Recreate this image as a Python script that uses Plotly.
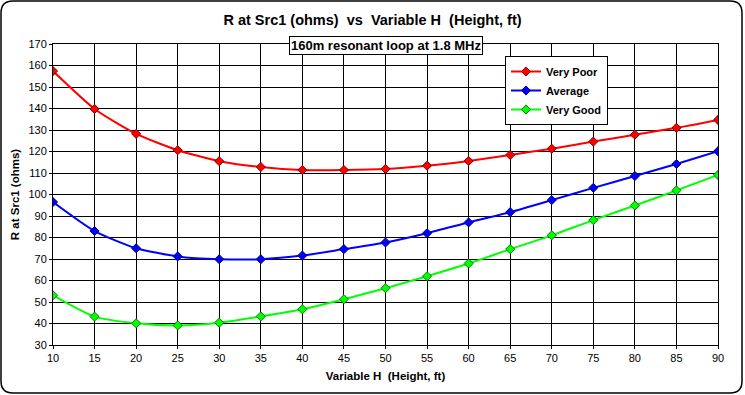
import plotly.graph_objects as go

heights = [10, 15, 20, 25, 30, 35, 40, 45, 50, 55, 60, 65, 70, 75, 80, 85, 90]
very_poor = [157.4, 139.8, 128.2, 120.6, 115.5, 112.8, 111.4, 111.4, 111.9, 113.4, 115.6, 118.4, 121.3, 124.6, 127.8, 131.0, 134.7]
average = [96.5, 83.0, 75.0, 71.2, 69.9, 69.9, 71.6, 74.6, 77.7, 82.0, 87.0, 91.8, 97.4, 103.1, 108.6, 114.2, 120.1]
very_good = [53.1, 43.2, 40.1, 39.1, 40.4, 43.3, 46.6, 51.3, 56.4, 62.0, 67.9, 74.6, 81.0, 88.1, 94.9, 101.9, 109.1]
series_names = ["Very Poor", "Average", "Very Good"]
x_ticks = list(range(10, 91, 5))
y_ticks = list(range(30, 171, 10))

W, H = 745, 395
L, R, T, B = 53, 27, 44, 50
pw, ph = W - L - R, H - T - B

FONT = "Liberation Sans, Arial, sans-serif"

fig = go.Figure()
styles = [("#ff0000", "#800000"), ("#0000ff", "#000080"), ("#00ff00", "#008000")]
for name, vals, (c, ec) in zip(series_names, [very_poor, average, very_good], styles):
    fig.add_trace(go.Scatter(
        x=heights, y=vals, name=name, mode="lines+markers",
        line=dict(color=c, width=2, shape="spline", smoothing=0.6),
        marker=dict(symbol="diamond", size=7, color=c, line=dict(color=ec, width=1)),
    ))

def px2x(px):
    return (px - L) / pw

def px2y(py):
    return (H - B - py) / ph

# rounded outer border
x0, x1, y0, y1, r = 1, 742, 1, 393, 12
path = (
    f"M {px2x(x0 + r)} {px2y(y0)} L {px2x(x1 - r)} {px2y(y0)} "
    f"Q {px2x(x1)} {px2y(y0)} {px2x(x1)} {px2y(y0 + r)} "
    f"L {px2x(x1)} {px2y(y1 - r)} Q {px2x(x1)} {px2y(y1)} {px2x(x1 - r)} {px2y(y1)} "
    f"L {px2x(x0 + r)} {px2y(y1)} Q {px2x(x0)} {px2y(y1)} {px2x(x0)} {px2y(y1 - r)} "
    f"L {px2x(x0)} {px2y(y0 + r)} Q {px2x(x0)} {px2y(y0)} {px2x(x0 + r)} {px2y(y0)} Z"
)
fig.add_shape(type="path", path=path, xref="paper", yref="paper",
              line=dict(color="black", width=1.5), layer="below")

fig.add_annotation(
    text="<b>160m resonant loop at 1.8 MHz</b>", x=px2x(386), y=px2y(45.5),
    xref="paper", yref="paper", showarrow=False, xanchor="center", yanchor="middle",
    font=dict(family=FONT, size=13, color="black"),
    bgcolor="white", bordercolor="black", borderwidth=1, borderpad=1,
)

fig.update_layout(
    width=W, height=H,
    margin=dict(l=L, r=R, t=T, b=B, pad=0),
    paper_bgcolor="white", plot_bgcolor="white",
    font=dict(family=FONT, size=11, color="black"),
    title=dict(text="<b>R at Src1 (ohms)  vs  Variable H  (Height, ft)</b>",
               x=0.5, xanchor="center", y=1 - 20 / H, yanchor="middle",
               font=dict(family=FONT, size=14.5, color="black")),
    showlegend=True,
    legend=dict(x=px2x(505), y=px2y(56), xanchor="left", yanchor="top",
                bgcolor="white", bordercolor="black", borderwidth=1,
                font=dict(family=FONT, size=11, color="black", weight="bold"),
                tracegroupgap=0, itemwidth=30),
    hovermode=False,
)
fig.update_xaxes(
    range=[10, 90], tickvals=x_ticks, ticktext=[str(v) for v in x_ticks],
    showgrid=True, gridcolor="black", gridwidth=1,
    showline=True, linecolor="black", linewidth=1, mirror=True,
    ticks="outside", ticklen=3, tickcolor="black", zeroline=False,
    title=dict(text="<b>Variable H  (Height, ft)</b>", font=dict(family=FONT, size=11.5), standoff=8),
)
fig.update_yaxes(
    range=[30, 170], tickvals=y_ticks, ticktext=[str(v) for v in y_ticks],
    showgrid=True, gridcolor="black", gridwidth=1,
    showline=True, linecolor="black", linewidth=1, mirror=True,
    ticks="outside", ticklen=3, tickcolor="black", zeroline=False,
    title=dict(text="<b>R at Src1 (ohms)</b>", font=dict(family=FONT, size=11.5), standoff=6),
)

fig.write_html("out.html", config={"displayModeBar": False, "staticPlot": True},
               post_script="document.body.style.margin='0';document.body.style.padding='0';")
